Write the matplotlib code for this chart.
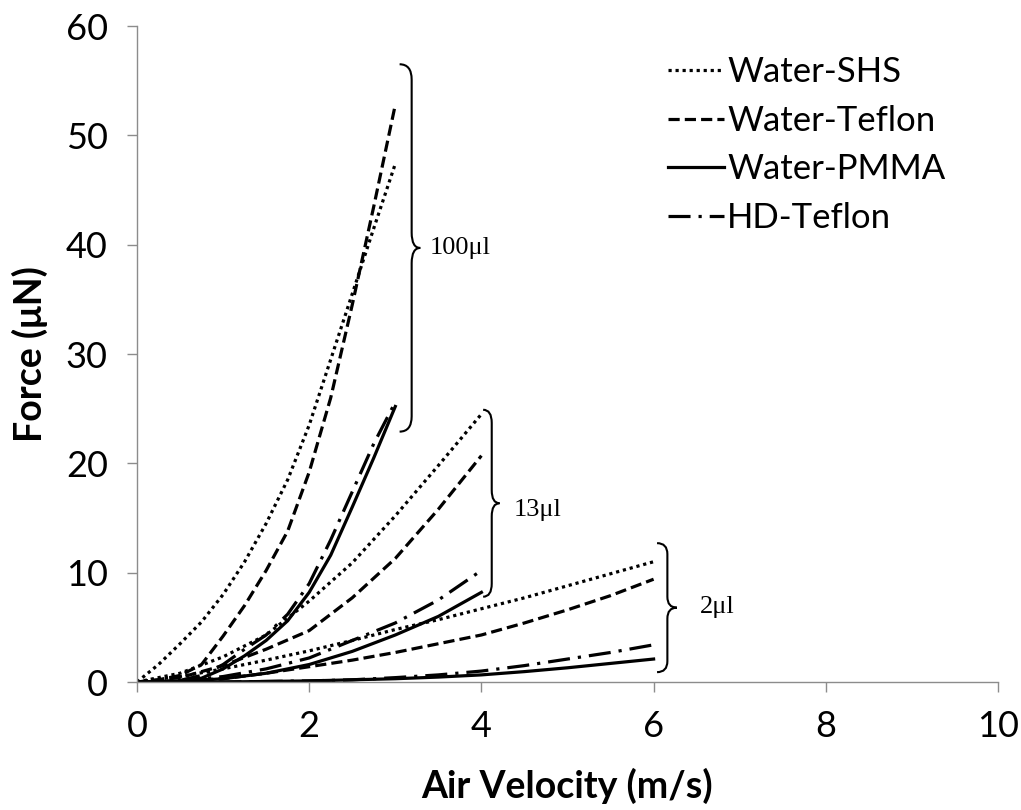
import matplotlib
matplotlib.use("Agg")
import matplotlib.pyplot as plt
from matplotlib.path import Path
from matplotlib.patches import PathPatch

# ---------------- data ----------------
# 100 µl droplets
v_100 = [0, 0.25, 0.5, 0.75, 1.0, 1.25, 1.5, 1.75, 2.0, 2.25, 2.5, 2.75, 3.0]
shs_100 = [0, 1.6, 3.5, 5.5, 8.0, 11.0, 14.5, 18.5, 23.5, 29.5, 35.5, 41.5, 47.4]
teflon_100 = [0, 0.2, 0.6, 1.6, 4.2, 7.0, 10.2, 13.8, 19.2, 26.0, 34.5, 43.5, 52.8]
pmma_100 = [0, 0.0, 0.05, 0.35, 1.2, 2.4, 3.8, 5.6, 8.2, 11.6, 16.0, 20.5, 25.2]
hd_100 = [0, 0.02, 0.15, 0.6, 1.6, 3.0, 4.3, 6.2, 9.0, 13.0, 17.4, 21.8, 25.6]

# 13 µl droplets
v_13 = [0, 0.5, 1.0, 1.5, 2.0, 2.5, 3.0, 3.5, 4.0]
shs_13 = [0, 0.8, 2.3, 4.3, 7.4, 10.9, 15.2, 19.8, 24.5]
teflon_13 = [0, 0.4, 1.5, 3.0, 4.7, 7.7, 11.3, 15.8, 20.7]
pmma_13 = [0, 0.05, 0.3, 0.8, 1.6, 2.8, 4.3, 6.0, 8.2]
hd_13 = [0, 0.1, 0.5, 1.2, 2.2, 3.8, 5.4, 7.5, 10.2]

# 2 µl droplets
v_2 = [0, 0.5, 1.0, 1.5, 2.0, 2.5, 3.0, 3.5, 4.0, 4.5, 5.0, 5.5, 6.0]
shs_2 = [0, 0.5, 1.2, 2.0, 2.85, 3.8, 4.8, 5.7, 6.7, 7.7, 8.8, 9.9, 11.0]
teflon_2 = [0, 0.1, 0.3, 0.8, 1.4, 2.0, 2.7, 3.5, 4.3, 5.4, 6.6, 7.9, 9.4]
pmma_2 = [0, 0.0, 0.0, 0.05, 0.1, 0.2, 0.3, 0.45, 0.65, 0.95, 1.3, 1.7, 2.1]
hd_2 = [0, 0.0, 0.0, 0.05, 0.1, 0.2, 0.4, 0.65, 1.0, 1.5, 2.1, 2.7, 3.4]

series_names = ["Water-SHS", "Water-Teflon", "Water-PMMA", "HD-Teflon"]
group_labels = ["100\u03bcl", "13\u03bcl", "2\u03bcl"]
x_ticks = [0, 2, 4, 6, 8, 10]
y_ticks = [0, 10, 20, 30, 40, 50, 60]

# ---------------- style ----------------
plt.rcParams['font.family'] = ['Lato', 'DejaVu Sans']
LW = 2.3
styles = {
    "Water-SHS": dict(linestyle=(0, (1, 1.2)), dash_capstyle='butt'),
    "Water-Teflon": dict(linestyle=(0, (3.5, 1.6)), dash_capstyle='butt'),
    "Water-PMMA": dict(linestyle='-'),
    "HD-Teflon": dict(linestyle=(0, (6.9, 2.5, 1, 2.5)), dash_capstyle='butt'),
}

fig = plt.figure(figsize=(10.21, 8.10), dpi=100)
ax = fig.add_axes([137 / 1021, 1 - 682 / 810, (998 - 137) / 1021, (682 - 26) / 810])

groups = [
    (v_100, [shs_100, teflon_100, pmma_100, hd_100]),
    (v_13, [shs_13, teflon_13, pmma_13, hd_13]),
    (v_2, [shs_2, teflon_2, pmma_2, hd_2]),
]
handles = []
for gi, (v, ys) in enumerate(groups):
    for name, y in zip(series_names, ys):
        ln, = ax.plot(v, y, color='black', lw=LW, **styles[name],
                      label=name if gi == 0 else None)
        if gi == 0:
            handles.append(ln)

ax.set_xlim(0, 10)
ax.set_ylim(0, 60)
ax.set_xticks(x_ticks)
ax.set_yticks(y_ticks)
ax.tick_params(axis='both', direction='out', length=7, width=1, color='#8c8c8c',
               labelsize=26)
ax.tick_params(axis='x', pad=13)
ax.tick_params(axis='y', pad=14)
for s in ['top', 'right']:
    ax.spines[s].set_visible(False)
for s in ['left', 'bottom']:
    ax.spines[s].set_color('#8c8c8c')
    ax.spines[s].set_linewidth(1)

ax.set_xlabel("Air Velocity (m/s)", fontsize=27, fontweight='bold')
ax.set_ylabel("Force (\u03bcN)", fontsize=27, fontweight='bold')
ax.xaxis.set_label_coords(0.5, (682 - 768) / 656)
ax.yaxis.set_label_coords((48 - 137) / 861, 0.5)


def brace(x_end, x_spine, x_tip, y_top, y_bot, r):
    y_mid = (y_top + y_bot) / 2
    verts = [
        (x_end, y_top), (x_spine, y_top), (x_spine, y_top - r),
        (x_spine, y_mid + r),
        (x_spine, y_mid), (x_tip, y_mid),
        (x_spine, y_mid), (x_spine, y_mid - r),
        (x_spine, y_bot + r),
        (x_spine, y_bot), (x_end, y_bot),
    ]
    codes = [Path.MOVETO, Path.CURVE3, Path.CURVE3, Path.LINETO,
             Path.CURVE3, Path.CURVE3, Path.CURVE3, Path.CURVE3,
             Path.LINETO, Path.CURVE3, Path.CURVE3]
    ax.add_patch(PathPatch(Path(verts, codes), facecolor='none',
                           edgecolor='black', lw=1.5, clip_on=False))


brace(3.05, 3.19, 3.29, 56.5, 22.9, 1.4)
brace(4.02, 4.12, 4.21, 24.9, 7.8, 1.2)
brace(6.04, 6.16, 6.27, 12.7, 0.9, 1.0)

serif = ['Liberation Serif', 'DejaVu Serif']
ax.text(3.40, 39.7, group_labels[0], fontsize=19, family=serif, va='center', ha='left')
ax.text(4.37, 15.7, group_labels[1], fontsize=19, family=serif, va='center', ha='left')
ax.text(6.54, 6.9, group_labels[2], fontsize=19, family=serif, va='center', ha='left')

leg = ax.legend(handles=handles, loc='upper left',
                bbox_to_anchor=(668 / 1021, 1 - 56 / 810), bbox_transform=fig.transFigure,
                frameon=False, fontsize=25, handlelength=1.6, handletextpad=0.1,
                labelspacing=0.48, borderpad=0, borderaxespad=0)

fig.savefig("out.png", dpi=100)
